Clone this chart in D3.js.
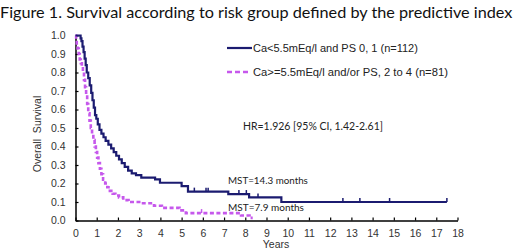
<!DOCTYPE html>
<html><head><meta charset="utf-8">
<script src="https://cdn.jsdelivr.net/npm/d3@7"></script>
<style>html,body{margin:0;padding:0;background:#fff;}svg{display:block;}</style>
</head><body>
<svg id="c" width="520" height="251"></svg>
<script>
const title = "Figure 1. Survival according to risk group defined by the predictive index";
const xTicks = [0,1,2,3,4,5,6,7,8,9,10,11,12,13,14,15,16,17,18];
const yTicks = [0,0.1,0.2,0.3,0.4,0.5,0.6,0.7,0.8,0.9,1.0];
const seriesNames = ["Ca<5.5mEq/l and PS 0, 1 (n=112)", "Ca>=5.5mEq/l and/or PS, 2 to 4 (n=81)"];
// step points [time in years, survival]
const lowRisk = [[0,1.0],[0.24,0.985],[0.28,0.97],[0.33,0.94],[0.38,0.91],[0.43,0.875],[0.48,0.84],[0.53,0.80],[0.6,0.77],[0.67,0.73],[0.74,0.69],[0.8,0.65],[0.86,0.61],[0.92,0.57],[0.98,0.55],[1.05,0.52],[1.13,0.49],[1.22,0.47],[1.32,0.45],[1.42,0.43],[1.55,0.41],[1.68,0.39],[1.8,0.37],[1.92,0.35],[2.05,0.33],[2.18,0.31],[2.32,0.29],[2.48,0.27],[2.65,0.255],[2.85,0.245],[3.1,0.232],[3.75,0.222],[3.98,0.204],[5.0,0.186],[5.3,0.156],[7.2,0.143],[8.18,0.125],[9.7,0.10],[17.5,0.10]];
const lowCensor = [[5.6,0.156],[6.15,0.156],[6.25,0.156],[7.7,0.143],[8.05,0.143],[8.6,0.125],[12.6,0.10],[13.4,0.10],[14.8,0.10],[17.5,0.10]];
const highRisk = [[0,1.0],[0.03,0.975],[0.06,0.95],[0.1,0.93],[0.15,0.9],[0.2,0.87],[0.25,0.85],[0.3,0.83],[0.35,0.80],[0.4,0.76],[0.45,0.72],[0.5,0.68],[0.55,0.63],[0.6,0.58],[0.66,0.54],[0.72,0.50],[0.78,0.47],[0.84,0.435],[0.9,0.40],[0.96,0.37],[1.02,0.34],[1.08,0.31],[1.15,0.28],[1.22,0.25],[1.3,0.22],[1.4,0.20],[1.5,0.18],[1.62,0.16],[1.75,0.145],[1.88,0.135],[2.05,0.125],[2.25,0.11],[2.5,0.10],[3.1,0.093],[3.7,0.08],[4.07,0.068],[4.9,0.055],[5.2,0.04],[7.8,0.027],[8.2,0.014],[8.35,0.014]];
const highCensor = [[5.94,0.04]];
const annotations = ["HR=1.926 [95% CI, 1.42-2.61]", "MST=14.3 months", "MST=7.9 months"];

const svg = d3.select("#c");
const navy = "#1b1b70", mag = "#c658ec";
const x = d3.scaleLinear().domain([0,18]).range([75.5,457.5]);
const y = d3.scaleLinear().domain([0,1]).range([220.5,35.5]);

function fit(sel, target){
  const w = sel.node().getComputedTextLength();
  const fs = parseFloat(sel.attr("font-size"));
  sel.attr("font-size", fs*target/w);
}

const t = svg.append("text").attr("x",0).attr("y",18).attr("font-family","Lato, 'Open Sans', sans-serif").attr("font-size",17).attr("fill","#111").text(title);
fit(t, 513);

// axes
const xAxis = d3.axisBottom(x).tickValues(xTicks).tickSizeInner(-3).tickSizeOuter(0).tickPadding(9);
const gx = svg.append("g").attr("transform",`translate(0,${y(0)})`).call(xAxis);
const yAxis = d3.axisLeft(y).tickValues(yTicks).tickSizeInner(-3).tickSizeOuter(0).tickPadding(10).tickFormat(d3.format(".1f"));
const gy = svg.append("g").attr("transform",`translate(${x(0)},0)`).call(yAxis);
[gx,gy].forEach(g=>{
  g.select(".domain").attr("stroke","#000").attr("stroke-width",1.5);
  g.selectAll(".tick line").attr("stroke","#000").attr("stroke-width",1.2);
  g.selectAll(".tick text").attr("font-family","Liberation Sans, Arial, sans-serif").attr("font-size",10.5).attr("fill","#333");
});

svg.append("text").attr("transform",`translate(41,134) rotate(-90)`).attr("text-anchor","middle")
  .attr("font-family","Liberation Sans, Arial, sans-serif").attr("font-size",10.5).attr("fill","#333").attr("xml:space","preserve").text("Overall  Survival");
svg.append("text").attr("x",276).attr("y",248).attr("text-anchor","middle")
  .attr("font-family","Liberation Sans, Arial, sans-serif").attr("font-size",10.5).attr("fill","#333").text("Years");

const line = d3.line().x(d=>x(d[0])).y(d=>y(d[1])).curve(d3.curveStepAfter);
svg.append("path").datum(highRisk).attr("d",line).attr("fill","none").attr("stroke",mag).attr("stroke-width",2.6).attr("stroke-dasharray","4,2.5");
svg.append("path").datum(lowRisk).attr("d",line).attr("fill","none").attr("stroke",navy).attr("stroke-width",2.2);
svg.selectAll(".lc").data(lowCensor).join("line").attr("x1",d=>x(d[0])).attr("x2",d=>x(d[0])).attr("y1",d=>y(d[1])).attr("y2",d=>y(d[1])-4).attr("stroke",navy).attr("stroke-width",1.5);
svg.selectAll(".hc").data(highCensor).join("line").attr("x1",d=>x(d[0])).attr("x2",d=>x(d[0])).attr("y1",d=>y(d[1])).attr("y2",d=>y(d[1])-4).attr("stroke",mag).attr("stroke-width",1.5);

// legend
svg.append("line").attr("x1",227).attr("x2",252).attr("y1",48).attr("y2",48).attr("stroke",navy).attr("stroke-width",2.2);
svg.append("line").attr("x1",227).attr("x2",251).attr("y1",72).attr("y2",72).attr("stroke",mag).attr("stroke-width",2.4).attr("stroke-dasharray","5,3");
const l1 = svg.append("text").attr("x",253).attr("y",51.5).attr("font-family","Liberation Sans, Arial, sans-serif").attr("font-size",9.5).attr("fill","#222").text(seriesNames[0]);
fit(l1,165);
const l2 = svg.append("text").attr("x",253).attr("y",75.5).attr("font-family","Liberation Sans, Arial, sans-serif").attr("font-size",9.5).attr("fill","#222").text(seriesNames[1]);
fit(l2,195);

const a1 = svg.append("text").attr("x",243).attr("y",130).attr("font-family","Lato, 'Open Sans', sans-serif").attr("font-size",10.5).attr("fill","#222").text(annotations[0]);
fit(a1,140);
const a2 = svg.append("text").attr("x",228).attr("y",183.5).attr("font-family","Lato, 'Open Sans', sans-serif").attr("font-size",10.5).attr("fill","#222").text(annotations[1]);
fit(a2,80);
const a3 = svg.append("text").attr("x",228).attr("y",210.5).attr("font-family","Lato, 'Open Sans', sans-serif").attr("font-size",10.5).attr("fill","#222").text(annotations[2]);
fit(a3,76);
</script>
</body></html>
